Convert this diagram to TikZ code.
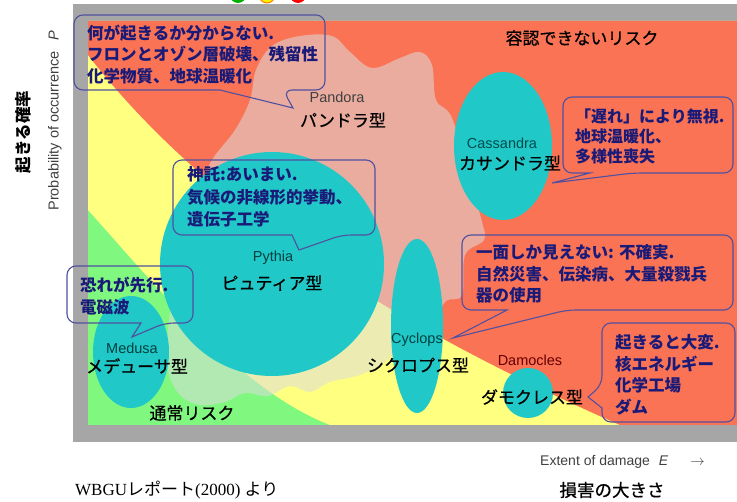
\documentclass[tikz,border=0pt]{standalone}
\usepackage{fontspec}
\setmainfont{Liberation Sans}
\newfontfamily\jp{Noto Sans CJK JP}
\newfontfamily\jpm{Noto Sans CJK JP}[FakeBold=0.6]
\newfontfamily\serifw{Liberation Serif}
\definecolor{framec}{HTML}{A6A6A6}
\definecolor{redz}{HTML}{FA7355}
\definecolor{yellowz}{HTML}{FFFF80}
\definecolor{greenz}{HTML}{80F880}
\definecolor{tealz}{HTML}{20C8C8}
\definecolor{blobc}{HTML}{DCDCDC}
\definecolor{callc}{HTML}{5050A0}
\definecolor{navyt}{HTML}{1A1A78}
\definecolor{grayt}{HTML}{404040}
\begin{document}
\begin{tikzpicture}[x=1pt,y=-1pt,
  callout/.style={draw=callc, line width=1.1pt, rounded corners=9pt},
  ctext/.style={anchor=north west, inner sep=0pt, align=left, text=navyt,
    font=\jp\bfseries\fontsize{16.5}{21.5}\selectfont},
  typelab/.style={inner sep=0pt, font=\jpm\fontsize{17}{20}\selectfont},
  latlab/.style={inner sep=0pt, font=\fontsize{14.5}{16}\selectfont}]
\useasboundingbox (0,0) rectangle (737,502);
% small circles at top
\fill[green!70!black] (238,-5) circle (8);
\fill[yellow,draw=orange,line width=1pt] (267,-5) circle (8);
\fill[red] (298,-5) circle (8);
% frame
\fill[framec] (73,4) rectangle (737,442);
\fill[greenz] (88,21) rectangle (737,425);
\fill[yellowz] (88,210) .. controls (160,290) and (240,390) .. (330,425) -- (737,425) -- (737,21) -- (88,21) -- cycle;
\fill[redz] (88,55) .. controls (200,200) and (380,320) .. (620,425) -- (737,425) -- (737,21) -- (88,21) -- cycle;
% Pandora blob
\begin{scope}
\clip (88,21) rectangle (737,425);
\fill[blobc, fill opacity=0.55] plot[smooth cycle, tension=0.6] coordinates {
 (212,160) (235,130) (250,100) (256,70) (272,46) (300,36) (332,36) (350,52)
 (372,68) (400,58) (420,52) (432,65) (436,100) (452,118) (470,180) (482,222)
 (484,240) (465,255) (462,295) (445,302) (430,330) (400,348) (385,362) (360,375)
 (330,382) (310,392) (290,386) (268,396) (245,393) (225,402) (200,405) (180,395)
 (168,370) (168,330) (180,250) (200,190)};
\end{scope}
% teal shapes
\fill[tealz] (503,146) ellipse [x radius=49, y radius=74];
\fill[tealz] (272,264) circle (112);
\fill[tealz] (131,352) ellipse [x radius=38, y radius=56];
\fill[tealz] (417,326) ellipse [x radius=26, y radius=87];
\fill[tealz] (528,393) circle (25);
% labels
\node[typelab] (unacc) at (582,38) {容認できないリスク};
\node[typelab] (normal) at (192,413) {通常リスク};
\node[latlab, text=grayt] (pandL) at (337,97) {Pandora};
\node[typelab] (pandJ) at (343,120) {パンドラ型};
\node[latlab, text=teal!60!black] (cassL) at (502,143) {Cassandra};
\node[typelab] (cassJ) at (510,163) {カサンドラ型};
\node[latlab, text=teal!50!black] (pythL) at (273,258) {Pythia};
\node[typelab] (pythJ) at (272,283) {ピュティア型};
\node[latlab, text=teal!50!black] (meduL) at (132,348) {Medusa};
\node[typelab] (meduJ) at (137,366) {メデューサ型};
\node[latlab, text=teal!50!black] (cyclL) at (417,340) {Cyclops};
\node[typelab] (cyclJ) at (418,365) {シクロプス型};
\node[latlab, text=red!40!black] (damoL) at (530,360) {Damocles};
\node[typelab] (damoJ) at (532,397) {ダモクレス型};
% callouts
\draw[callout] (220,90) -- (74,90) -- (74,15) -- (325,15) -- (325,90) -- (283,90) [sharp corners] -- (293,108) -- cycle;
\node[ctext] (tA) at (87,24.5) {何が起きるか分からない.\\フロンとオゾン層破壊、残留性\\化学物質、地球温暖化};
\draw[callout] (590,173) -- (563,173) -- (563,97) -- (733,97) -- (733,173) -- (633,173) [sharp corners] -- (552,183) -- cycle;
\node[ctext, font=\jp\bfseries\fontsize{16}{20}\selectfont] (tB) at (575,108.5) {「遅れ」により無視.\\地球温暖化、\\多様性喪失};
\draw[callout] (292,235) -- (173,235) -- (173,160) -- (375,160) -- (375,235) -- (342,235) [sharp corners] -- (299,250) -- cycle;
\node[ctext, font=\jp\bfseries\fontsize{16.5}{22.5}\selectfont] (tC) at (187,166.5) {神託:あいまい.\\気候の非線形的挙動、\\遺伝子工学};
\draw[callout] (141,323) -- (67,323) -- (67,266) -- (193,266) -- (193,323) -- (165,323) [sharp corners] -- (132,337) -- cycle;
\node[ctext, font=\jp\bfseries\fontsize{16.5}{22}\selectfont] (tD) at (80,276.5) {恐れが先行.\\電磁波};
\draw[callout] (507,310) -- (462,310) -- (462,235) -- (733,235) -- (733,310) -- (567,310) [sharp corners] -- (453,338) -- cycle;
\node[ctext] (tE) at (476,244.5) {一面しか見えない: 不確実.\\自然災害、伝染病、大量殺戮兵\\器の使用};
\draw[callout] (602,408) -- (602,422) -- (735,422) -- (735,323) -- (602,323) -- (602,385) [sharp corners] -- (588,397) -- cycle;
\node[ctext] (tF) at (615,334.5) {起きると大変.\\核エネルギー\\化学工場\\ダム};
% axes labels
\node[rotate=90, inner sep=0pt, font=\jp\bfseries\fontsize{16.5}{18}\selectfont] (yJ) at (23,132) {起きる確率};
\node[rotate=90, inner sep=0pt, text=grayt, font=\fontsize{14.5}{16}\selectfont] (yE) at (55,120.5) {Probability of occurrence\hspace{11pt}\textit{P}};
\node[anchor=west, inner sep=0pt, text=grayt, font=\fontsize{14}{16}\selectfont] (xE) at (540,462) {Extent of damage\hspace{9pt}\textit{E}\hspace{22pt}$\rightarrow$};
\node[inner sep=0pt, font=\jpm\fontsize{17.5}{20}\selectfont] (xJ) at (612,490) {損害の大きさ};
\node[anchor=west, inner sep=0pt, font=\serifw\fontsize{17}{20}\selectfont] (src) at (75,490) {WBGU{\jp レポート}(2000) {\jp より}};
\end{tikzpicture}
\end{document}
